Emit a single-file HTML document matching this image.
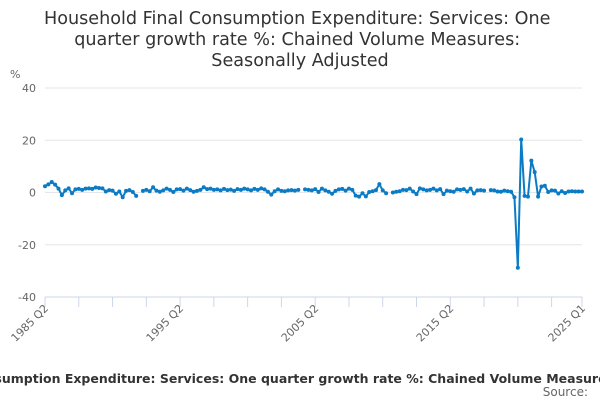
<!DOCTYPE html>
<html><head><meta charset="utf-8"><style>
html,body{margin:0;padding:0;background:#fff;width:600px;height:400px;overflow:hidden}
svg{display:block;font-family:"DejaVu Sans","Liberation Sans",sans-serif}
</style></head><body>
<svg id="chart" width="600" height="400">
<text x="300" y="24" text-anchor="middle" font-size="17.6" fill="#333">
<tspan x="300" y="24">Household Final Consumption Expenditure: Services: One</tspan>
<tspan x="300" y="45">quarter growth rate %: Chained Volume Measures:</tspan>
<tspan x="300" y="66">Seasonally Adjusted</tspan></text>
<text x="10" y="78" font-size="11" fill="#666">%</text>
<g id="grid"></g><g id="axes"></g><g id="series"></g>
<text x="614" y="383" text-anchor="end" font-size="12.5" font-weight="bold" fill="#333">Household Final Consumption Expenditure: Services: One quarter growth rate %: Chained Volume Measures</text>
<text x="588" y="396" text-anchor="end" font-size="12" fill="#666">Source:</text>
</svg>
<script>
const yTicks=[40,20,0,-20,-40];
const xLabels=["1985 Q2","1995 Q2","2005 Q2","2015 Q2","2025 Q1"];
const xLabelIdx=[0,40,80,120,159];
const values=[2.4,3.1,4.0,3.0,1.5,-1.0,0.8,1.6,-0.3,1.2,
1.4,1.0,1.5,1.6,1.4,1.9,1.7,1.6,0.4,0.9,
0.7,-0.5,0.4,-1.8,0.6,0.9,0.2,-1.3,null,
0.6,1.0,0.5,2.0,0.7,0.3,0.8,1.5,1.0,0.2,1.2,
1.3,0.7,1.5,0.9,0.3,0.6,1.0,2.0,1.3,1.5,
1.0,1.2,0.8,1.4,0.9,1.1,0.6,1.3,1.0,1.5,
1.2,0.8,1.4,1.0,1.6,1.2,0.3,-0.8,0.5,1.2,
0.6,0.5,0.8,0.9,0.7,1.0,null,
1.2,1.0,0.8,1.3,0.2,1.5,0.8,0.3,-0.5,0.6,1.2,1.4,0.7,
1.5,1.0,-1.2,-1.6,-0.3,-1.5,0.2,0.5,0.9,3.2,0.8,-0.3,null,
0.0,0.3,0.5,1.0,0.9,1.5,0.4,-0.6,1.6,1.2,0.8,1.0,1.5,0.8,1.3,-0.6,0.7,0.5,0.3,1.2,1.0,1.3,0.4,1.5,-0.4,0.8,0.9,0.7,null,
0.9,0.8,0.4,0.3,0.7,0.5,0.3,-1.8,
-28.8,20.3,-1.3,-1.6,12.2,7.8,-1.6,2.3,2.6,0.2,0.8,0.7,-0.4,0.5,-0.2,0.4,0.5,0.4,0.4,0.4];
const NS="http://www.w3.org/2000/svg";
const x0=45,x1=582,yTop=88,yBot=297,yMax=40,yMin=-40;
const N=values.length;
function xs(i){return x0+i*(x1-x0)/(N-1);}
function ys(v){return yTop+(yMax-v)*(yBot-yTop)/(yMax-yMin);}
function mk(tag,attrs,parent){const e=document.createElementNS(NS,tag);for(const k in attrs)e.setAttribute(k,attrs[k]);parent.appendChild(e);return e;}
const grid=document.getElementById('grid'),axes=document.getElementById('axes'),ser=document.getElementById('series');
yTicks.forEach(t=>{
  if(t!==yMin){const l=mk('line',{x1:x0,x2:x1,y1:ys(t),y2:ys(t),stroke:'#e6e6e6','stroke-width':1},grid);
  
  }
  const tx=mk('text',{x:36,y:ys(t)+4,'text-anchor':'end','font-size':11,fill:'#666'},axes);
  tx.textContent=t;
  
  
});
const ax=mk('line',{x1:x0,x2:x1,y1:yBot,y2:yBot,stroke:'#ccd6eb','stroke-width':1},axes);


for(let i=0;i<=N;i+=10){const xi=Math.min(xs(i),x1);
  const tk=mk('line',{x1:xi,x2:xi,y1:yBot,y2:yBot+10,stroke:'#ccd6eb'},axes);
  
  }
xLabels.forEach((lab,k)=>{const xi=xs(xLabelIdx[k]);const lx=xi+4,ly=yBot+12;
  const tx=mk('text',{x:lx,y:ly,'text-anchor':'end','font-size':11,fill:'#666',transform:`rotate(-45 ${lx} ${ly})`},axes);
  tx.textContent=lab;
  
  });
let d='',pen=false;
values.forEach((v,i)=>{if(v===null){pen=false;return;}d+=(pen?'L':'M')+xs(i).toFixed(2)+' '+ys(v).toFixed(2);pen=true;});
const p=mk('path',{d:d,fill:'none',stroke:'#0a7bc4','stroke-width':2,'stroke-linejoin':'round'},ser);


values.forEach((v,i)=>{if(v===null)return;
  const c=mk('circle',{cx:xs(i),cy:ys(v),r:2,fill:'#0a7bc4'},ser);
  
  });
</script>
</body></html>
